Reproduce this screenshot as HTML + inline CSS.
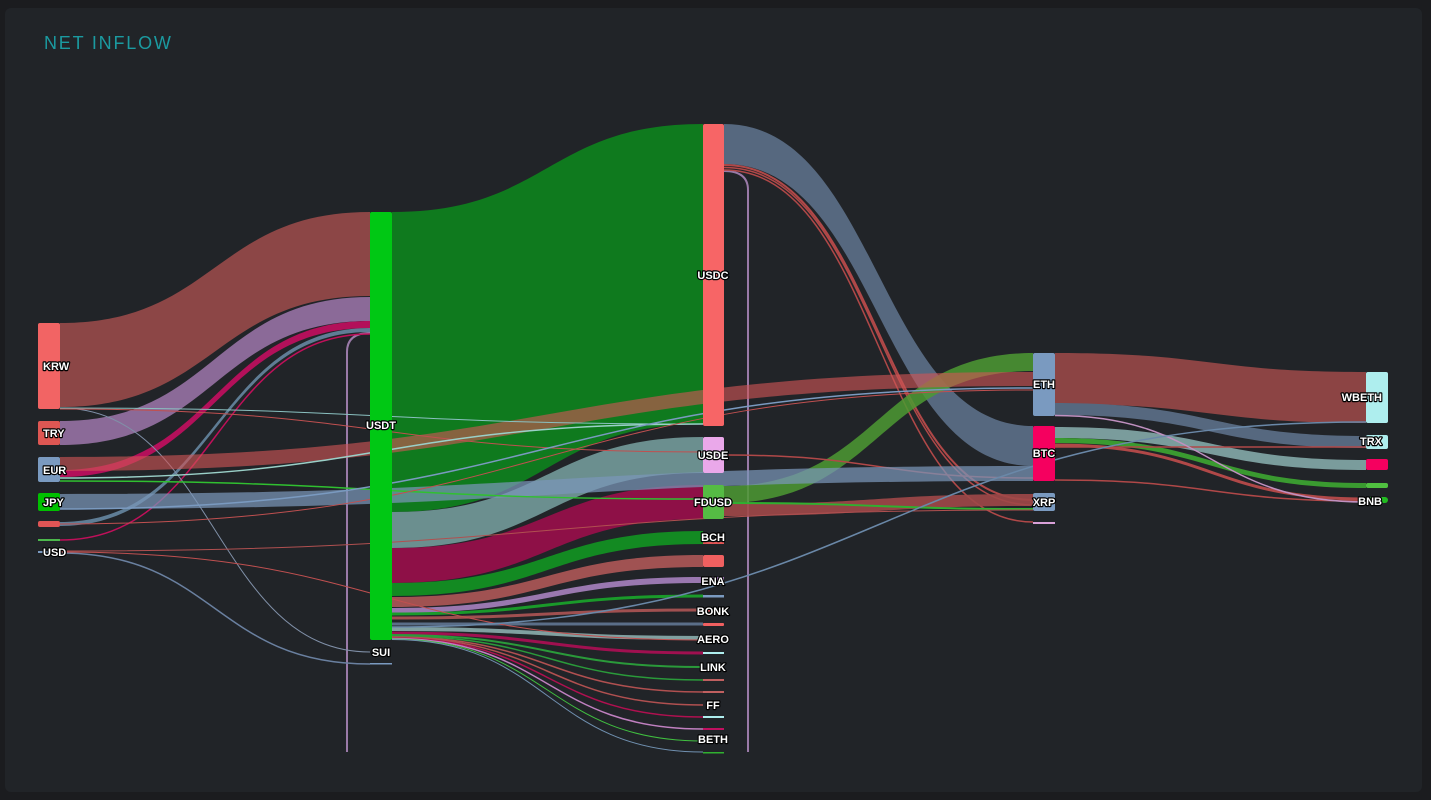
<!DOCTYPE html>
<html><head><meta charset="utf-8"><style>
html,body{margin:0;padding:0;background:#1b1c1f;width:1431px;height:800px;overflow:hidden}
.panel{position:absolute;left:5px;top:8px;width:1417px;height:784px;background:#212428;border-radius:6px}
svg{position:absolute;left:0;top:0}
.t{font-family:"Liberation Sans",sans-serif;font-size:11px;font-weight:bold;fill:#fff;stroke:#000;stroke-width:2.4px;paint-order:stroke;stroke-linejoin:round}
.ttl{font-family:"Liberation Sans",sans-serif;font-size:18px;fill:#1b9aa0;letter-spacing:1.8px}
</style></head><body>
<div class="panel"></div>
<svg width="1431" height="800" viewBox="0 0 1431 800" xmlns="http://www.w3.org/2000/svg">
<text class="ttl" x="44" y="49">NET INFLOW</text>

<!-- loops -->
<path d="M370,333 Q347,333 347,352 L347,752" fill="none" stroke="#9a7aa8" stroke-width="2"/>
<path d="M724,171 Q748,171 748,190 L748,752" fill="none" stroke="#9a7aa8" stroke-width="2"/>

<!-- USDT outgoing bands -->
<path d="M392,212 C547.5,212 547.5,124 703,124 L703,424 C547.5,424 547.5,512 392,512 Z" fill="#0f7a1e"/>
<path d="M392,512 C547.5,512 547.5,437 703,437 L703,473 C547.5,473 547.5,548 392,548 Z" fill="#6b8f8f"/>
<path d="M392,548 C547.5,548 547.5,485 703,485 L703,519 C547.5,519 547.5,583 392,583 Z" fill="#8e1047"/>
<path d="M392,583 C547.5,583 547.5,531 703,531 L703,544 C547.5,544 547.5,596 392,596 Z" fill="#138a22"/>
<path d="M392,597 C547.5,597 547.5,555 703,555 L703,567 C547.5,567 547.5,607 392,607 Z" fill="#a05252"/>
<path d="M392,608 C547.5,608 547.5,577 703,577 L703,583 C547.5,583 547.5,613 392,613 Z" fill="#9a78b0"/>
<g fill="none">
<path d="M392,614 C547.5,614 547.5,596 703,596" stroke="#1a9a2a" stroke-width="3"/>
<path d="M392,618 C547.5,618 547.5,610 703,610" stroke="#a05050" stroke-width="3"/>
<path d="M392,624 C547.5,624 547.5,624 703,624" stroke="#5a6e88" stroke-width="3"/>
<path d="M392,629 C547.5,629 547.5,638 703,638" stroke="#80a0a0" stroke-width="4"/>
<path d="M392,633 C547.5,633 547.5,653 703,653" stroke="#a01050" stroke-width="3"/>
<path d="M392,635 C547.5,635 547.5,667 703,667" stroke="#2a9a3a" stroke-width="2"/>
<path d="M392,636 C547.5,636 547.5,680 703,680" stroke="#2a9a3a" stroke-width="1.5"/>
<path d="M392,637 C547.5,637 547.5,692 703,692" stroke="#b05050" stroke-width="1.5"/>
<path d="M392,637.5 C547.5,637.5 547.5,705 703,705" stroke="#b05050" stroke-width="1.5"/>
<path d="M392,638 C547.5,638 547.5,717 703,717" stroke="#b01050" stroke-width="1.5"/>
<path d="M392,638.5 C547.5,638.5 547.5,729 703,729" stroke="#c080c0" stroke-width="1.5"/>
<path d="M392,639 C547.5,639 547.5,741 703,741" stroke="#40c040" stroke-width="1"/>
<path d="M392,639.5 C547.5,639.5 547.5,752 703,752" stroke="#7090b0" stroke-width="1"/>
</g>

<!-- left bands -->
<path d="M60,323 C215,323 215,212 370,212 L370,296 C215,296 215,407 60,407 Z" fill="#8c4646"/>
<path d="M60,421 C215,421 215,297 370,297 L370,321 C215,321 215,445 60,445 Z" fill="#8b6a98"/>
<path d="M60,470 C215,470 215,321 370,321 L370,328 C215,328 215,477 60,477 Z" fill="#b3105a"/>
<path d="M60,522 C215,522 215,328 370,328 L370,332 C215,332 215,526 60,526 Z" fill="#5f7d95"/>
<g fill="none">
<path d="M60,540 C215,540 215,334 370,334" stroke="#c0105a" stroke-width="1.5"/>
<path d="M60,408 C215,408 215,652 370,652" stroke="#8090a8" stroke-width="1"/>
<path d="M60,553 C215,553 215,664 370,664" stroke="#6a80a0" stroke-width="1.5"/>
</g>

<!-- USDC outgoing -->
<path d="M724,124 C878.5,124 878.5,426 1033,426 L1033,466 C878.5,466 878.5,164 724,164 Z" fill="#56687f"/>
<g fill="none">
<path d="M724,165 C878.5,165 878.5,500 1033,500" stroke="#b04848" stroke-width="2"/>
<path d="M724,167.5 C878.5,167.5 878.5,505 1033,505" stroke="#b04848" stroke-width="1.5"/>
<path d="M724,170 C878.5,170 878.5,522 1033,522" stroke="#b04848" stroke-width="1.5"/>
</g>

<!-- right bands -->
<path d="M1055,353 C1210.5,353 1210.5,372 1366,372 L1366,423 C1210.5,423 1210.5,404 1055,404 Z" fill="#8c4444"/>
<path d="M1055,403 C1210.5,403 1210.5,436 1366,436 L1366,448 C1210.5,448 1210.5,415 1055,415 Z" fill="#56687f"/>
<path d="M1055,427 C1210.5,427 1210.5,460 1366,460 L1366,470 C1210.5,470 1210.5,438 1055,438 Z" fill="#7a9c9c"/>
<path d="M1055,438 C1210.5,438 1210.5,483 1366,483 L1366,488 C1210.5,488 1210.5,443 1055,443 Z" fill="#3a9a30"/>
<g fill="none">
<path d="M1055,445 C1210.5,445 1210.5,499 1366,499" stroke="#b04848" stroke-width="3"/>
<path d="M1055,447 C1210.5,447 1210.5,447 1366,447" stroke="#b04848" stroke-width="1.5"/>
<path d="M1055,480 C1210.5,480 1210.5,501 1366,501" stroke="#b04848" stroke-width="1.5"/>
<path d="M1055,415.5 C1210.5,415.5 1210.5,502 1366,502" stroke="#c090c0" stroke-width="1.5"/>
</g>

<!-- FDUSD / USDE outgoing -->
<path d="M724,504 C878.5,504 878.5,494 1033,494 L1033,506 C878.5,506 878.5,516 724,516 Z" fill="#a04848" fill-opacity="0.9"/>
<path d="M724,486 C878.5,486 878.5,353 1033,353 L1033,371 C878.5,371 878.5,503 724,503 Z" fill="#4c9a32" fill-opacity="0.85"/>
<g fill="none">
<path d="M724,503 C878.5,503 878.5,509 1033,509" stroke="#30b030" stroke-width="2"/>
<path d="M724,455 C878.5,455 878.5,478 1033,478" stroke="#b04848" stroke-width="1.5"/>
</g>

<!-- long translucent bands -->
<path d="M60,457 C546.5,457 546.5,372 1033,372 L1033,386 C546.5,386 546.5,471 60,471 Z" fill="#d05555" fill-opacity="0.62"/>
<path d="M60,494 C546.5,494 546.5,466 1033,466 L1033,481 C546.5,481 546.5,509 60,509 Z" fill="#7a96b8" fill-opacity="0.72"/>

<!-- thin long lines -->
<g fill="none">
<path d="M60,551 C546.5,551 546.5,510 1033,510" stroke="#b05050" stroke-width="1"/>
<path d="M60,408 C381.5,408 381.5,424 703,424" stroke="#8ac0c0" stroke-width="1"/>
<path d="M60,409 C381.5,409 381.5,452 703,452" stroke="#c05050" stroke-width="1"/>
<path d="M60,478 C381.5,478 381.5,424 703,424" stroke="#9ad0c8" stroke-width="1.5"/>
<path d="M60,481 C381.5,481 381.5,499 703,499" stroke="#30c030" stroke-width="1.5"/>
<path d="M60,509 C546.5,509 546.5,388 1033,388" stroke="#7a9ac0" stroke-width="1.5"/>
<path d="M60,524 C546.5,524 546.5,390 1033,390" stroke="#c05050" stroke-width="1"/>
<path d="M60,552 C381.5,552 381.5,640 703,640" stroke="#c05050" stroke-width="1"/>
<path d="M392,627 C879,627 879,422 1366,422" stroke="#6a88a8" stroke-width="1.5"/>
</g>

<!-- nodes -->
<g>
<rect x="38" y="323" width="22" height="86" rx="2" fill="#f26464"/>
<rect x="38" y="421" width="22" height="24" rx="2" fill="#de5753"/>
<rect x="38" y="457" width="22" height="25" rx="2" fill="#7a9ac0"/>
<rect x="38" y="493" width="22" height="18" rx="2" fill="#00c000"/>
<rect x="38" y="521" width="22" height="6" rx="2" fill="#e05555"/>
<rect x="38" y="539" width="22" height="2" fill="#4cb84c"/>
<rect x="38" y="551" width="22" height="2" fill="#7a9ac0"/>

<rect x="370" y="212" width="22" height="428" rx="2" fill="#00c814"/>
<rect x="370" y="663" width="22" height="1.5" fill="#7a9ac0"/>

<rect x="703" y="124" width="21" height="302" rx="2" fill="#f76566"/>
<rect x="703" y="437" width="21" height="36" rx="2" fill="#eaa8ea"/>
<rect x="703" y="485" width="21" height="34" rx="2" fill="#55bb44"/>
<rect x="703" y="542" width="21" height="2" fill="#e05555"/>
<rect x="703" y="555" width="21" height="12" rx="2" fill="#f06060"/>
<rect x="703" y="577" width="21" height="6" fill="#9a78b0"/>
<rect x="703" y="595" width="21" height="2.5" fill="#7a9ac0"/>
<rect x="703" y="609" width="21" height="2.5" fill="#e05a5a"/>
<rect x="703" y="623" width="21" height="3" rx="1" fill="#f06060"/>
<rect x="703" y="652" width="21" height="2" fill="#aeeeee"/>
<rect x="703" y="679" width="21" height="2" fill="#c06060"/>
<rect x="703" y="691" width="21" height="2" fill="#c06060"/>
<rect x="703" y="716" width="21" height="2" fill="#aeeeee"/>
<rect x="703" y="728" width="21" height="2" fill="#c01060"/>
<rect x="703" y="752" width="21" height="1.5" fill="#30b030"/>

<rect x="1033" y="353" width="22" height="63" rx="2" fill="#7a9ac0"/>
<rect x="1033" y="426" width="22" height="55" rx="2" fill="#f5005f"/>
<rect x="1033" y="493" width="22" height="18" rx="2" fill="#7a9ac0"/>
<rect x="1033" y="522" width="22" height="2" fill="#d8a0d8"/>

<rect x="1366" y="372" width="22" height="51" rx="2" fill="#aeeeee"/>
<rect x="1366" y="435" width="22" height="14" rx="2" fill="#aeeeee"/>
<rect x="1366" y="459" width="22" height="11" rx="2" fill="#f5005f"/>
<rect x="1366" y="483" width="22" height="5" rx="2" fill="#50c040"/>
<rect x="1366" y="497" width="22" height="6" rx="3" fill="#22bb22"/>
</g>

<!-- labels -->
<g class="t">
<text x="43" y="370">KRW</text>
<text x="43" y="437">TRY</text>
<text x="43" y="474">EUR</text>
<text x="43" y="506">JPY</text>
<text x="43" y="556">USD</text>
</g>
<g class="t" text-anchor="middle">
<text x="381" y="429">USDT</text>
<text x="381" y="656">SUI</text>
<text x="713" y="279">USDC</text>
<text x="713" y="459">USDE</text>
<text x="713" y="506">FDUSD</text>
<text x="713" y="541">BCH</text>
<text x="713" y="585">ENA</text>
<text x="713" y="615">BONK</text>
<text x="713" y="643">AERO</text>
<text x="713" y="671">LINK</text>
<text x="713" y="709">FF</text>
<text x="713" y="743">BETH</text>
<text x="1044" y="388">ETH</text>
<text x="1044" y="457">BTC</text>
<text x="1044" y="506">XRP</text>
</g>
<g class="t" text-anchor="end">
<text x="1382" y="401">WBETH</text>
<text x="1382" y="445">TRX</text>
<text x="1382" y="505">BNB</text>
</g>
</svg>
</body></html>
